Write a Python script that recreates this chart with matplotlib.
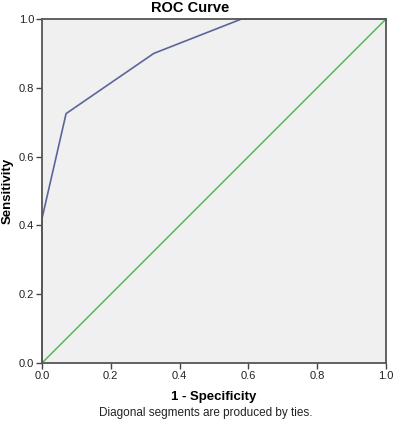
import matplotlib
matplotlib.use("Agg")
import matplotlib.pyplot as plt

fpr = [0.0, 0.0, 0.07, 0.325, 0.58, 1.0]
tpr = [0.0, 0.42, 0.725, 0.90, 1.0, 1.0]
ref_x = [0.0, 1.0]
ref_y = [0.0, 1.0]
ticks = [0.0, 0.2, 0.4, 0.6, 0.8, 1.0]

plt.rcParams['font.family'] = ['Liberation Sans', 'DejaVu Sans']

fig = plt.figure(figsize=(3.94, 4.24), dpi=100)
ax = fig.add_axes([42/394, 1 - 363/424, 344/394, 344/424])
ax.set_facecolor('#F0F0F0')
ax.plot(fpr, tpr, color='#5B6698', lw=1.2, clip_on=False, zorder=2)
ax.plot(ref_x, ref_y, color='#4DB04D', lw=1.0, clip_on=False, zorder=2)
ax.set_xlim(0, 1)
ax.set_ylim(0, 1)
ax.set_xticks(ticks)
ax.set_yticks(ticks)
ax.set_xticklabels([f"{t:.1f}" for t in ticks], fontsize=8, color='#222222')
ax.set_yticklabels([f"{t:.1f}" for t in ticks], fontsize=8, color='#222222')
ax.tick_params(direction='out', length=4, width=1, color='#444444', pad=1.5)
for s in ax.spines.values():
    s.set_color('#555555')
    s.set_linewidth(1.3)
    s.set_zorder(3)
ax.set_xlabel('1 - Specificity', fontsize=9.5, fontweight='bold')
ax.set_ylabel('Sensitivity', fontsize=9.5, fontweight='bold')
ax.xaxis.set_label_coords(0.5, -0.08)
ax.yaxis.set_label_coords(-0.083, 0.5)
fig.text(190/394, 1 - 8/424, 'ROC Curve', ha='center', va='center', fontsize=10.5, fontweight='bold')
fig.text(206/394, 1 - 413/424, 'Diagonal segments are produced by ties.', ha='center', va='center', fontsize=8.5, color='#222222')
fig.savefig('out.png', dpi=100, facecolor='white')
